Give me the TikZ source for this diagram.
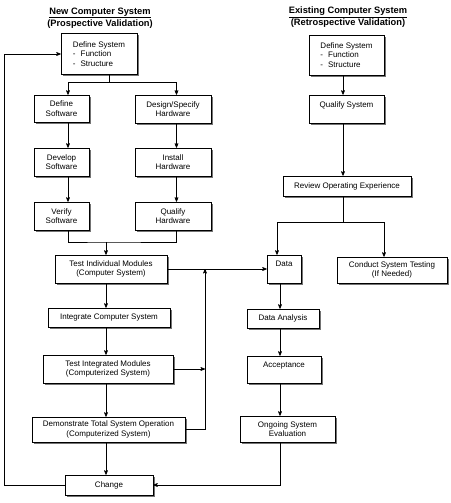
\documentclass[tikz,border=0pt]{standalone}
\usepackage{fontspec}
\setmainfont{Liberation Sans}
\usetikzlibrary{arrows,positioning,shadows}
\tikzset{
    %Define standard arrow tip
    >=stealth',
    %Define style for boxes
    kasse/.style={
           rectangle,
           draw=black, line width=0.6pt,
           fill=white,
           drop shadow={shadow xshift=1.6pt, shadow yshift=-1.6pt, fill=black!55, opacity=1},
           inner sep=2pt,
           align=center,
           font=\fontsize{8}{9.6}\selectfont},
    % Define arrow style
    pil/.style={
           ->,
           line width=0.65pt}
}
\begin{document}
\begin{tikzpicture}[x=1pt, y=-1pt,
str/.style 2 args={minimum width=#1pt, minimum height=#2pt},
tittel/.style={font=\bfseries\fontsize{9.3}{12}\selectfont, align=center},
 % Define line style
    lin/.style={
           line width=0.65pt}
]
\useasboundingbox (0,0) rectangle (450,503);
%Titles
\node[tittel] (tnew) at (100,18) {\underline{New Computer System}\\(Prospective Validation)};
\node[tittel] (told) at (348,17) {\underline{Existing Computer System}\\(Retrospective Validation)};
%Nodes new system
\node[kasse, str={76}{41}, align=left] (newdef) at (99,54) {Define System\\-\hspace{5pt}Function\\-\hspace{5pt}Structure};
\node[kasse, str={55}{27}] (sw1) at (61.5,108.5) {Define\\Software};
\node[kasse, str={55}{28}] (sw2) at (61.5,162) {Develop\\Software};
\node[kasse, str={55}{28}] (sw3) at (61.5,216) {Verify\\Software};
\node[kasse, str={76}{28}] (hw1) at (173,109) {Design/Specify\\Hardware};
\node[kasse, str={76}{28}] (hw2) at (173,162) {Install\\Hardware};
\node[kasse, str={76}{28}] (hw3) at (173,216) {Qualify\\Hardware};
\node[kasse, str={112}{28}] (test1) at (111,269) {Test Individual Modules\\(Computer System)};
\node[kasse, str={122}{19}] (integ) at (109,317.5) {Integrate Computer System};
\node[kasse, str={130}{28}] (test2) at (108,369) {Test Integrated Modules\\(Computerized System)};
\node[kasse, str={153}{25}] (demo) at (108.5,429.5) {Demonstrate Total System Operation\\(Computerized System)};
\node[kasse, str={88}{20}] (change) at (109,485) {Change};
%Nodes existing system
\node[kasse, str={75}{40}, align=left] (olddef) at (346.5,55) {Define System\\-\hspace{5pt}Function\\-\hspace{5pt}Structure};
\node[kasse, str={75}{28}] (qual) at (346.5,109) {Qualify System\\~};
\node[kasse, str={128}{20}] (review) at (347,186) {Review Operating Experience};
\node[kasse, str={34}{28}] (data) at (284,269) {Data\\~};
\node[kasse, str={110}{26}] (conduct) at (392,270) {Conduct System Testing\\(If Needed)};
\node[kasse, str={72}{19}] (analysis) at (283,318.5) {Data Analysis};
\node[kasse, str={74}{27}] (accept) at (284,369.5) {Acceptance\\~};
\node[kasse, str={95}{26}] (ongoing) at (287.5,429) {Ongoing System\\Evaluation};
%Junctions
\coordinate (dum1) at (109,82);
\coordinate (dum2) at (106,242);
\coordinate (dum3) at (205,269);
\coordinate (dum4) at (4,485);
\coordinate (dum5) at (343,222);
%Connectors new system
\draw[lin] (newdef.south -| dum1) -- (dum1);
\draw[pil] (dum1) -| ([xshift=6.5pt]sw1.north);
\draw[pil] (dum1) -| ([xshift=3.5pt]hw1.north);
\draw[pil] ([xshift=6.5pt]sw1.south) -- ([xshift=6.5pt]sw2.north);
\draw[pil] ([xshift=6.5pt]sw2.south) -- ([xshift=6.5pt]sw3.north);
\draw[pil] ([xshift=3.5pt]hw1.south) -- ([xshift=3.5pt]hw2.north);
\draw[pil] ([xshift=3.5pt]hw2.south) -- ([xshift=3.5pt]hw3.north);
\draw[lin] ([xshift=6.5pt]sw3.south) |- (dum2) -| ([xshift=3.5pt]hw3.south);
\draw[pil] (dum2) -- (dum2 |- test1.north);
\draw[pil] (test1.south -| dum2) -- (integ.north -| dum2);
\draw[pil] (integ.south -| dum2) -- (test2.north -| dum2);
\draw[pil] (test2.south -| dum2) -- (demo.north -| dum2);
\draw[pil] (demo.south -| dum2) -- (change.north -| dum2);
\draw[pil] (test1.east) -- (data.west);
\draw[pil] (test2.east) -- (test2.east -| dum3);
\draw[pil] (demo.east) -| (dum3);
\draw[pil] (change.west) -- (dum4) |- (newdef.west);
%Connectors existing system
\draw[pil] ([xshift=-3.5pt]olddef.south) -- ([xshift=-3.5pt]qual.north);
\draw[pil] ([xshift=-3.5pt]qual.south) -- (review.north -| dum5);
\draw[lin] (review.south -| dum5) -- (dum5);
\draw[pil] (dum5) -| ([xshift=-7pt]data.north);
\draw[pil] (dum5) -| ([xshift=-8pt]conduct.north);
\draw[pil] ([xshift=-4pt]data.south) -- ([xshift=-4pt]data.south |- analysis.north);
\draw[pil] ([xshift=-4pt]data.south |- analysis.south) -- ([xshift=-4pt]data.south |- accept.north);
\draw[pil] ([xshift=-4pt]data.south |- accept.south) -- ([xshift=-4pt]data.south |- ongoing.north);
\draw[pil] ([xshift=-4pt]data.south |- ongoing.south) |- (change.east);
\end{tikzpicture}
\end{document}
